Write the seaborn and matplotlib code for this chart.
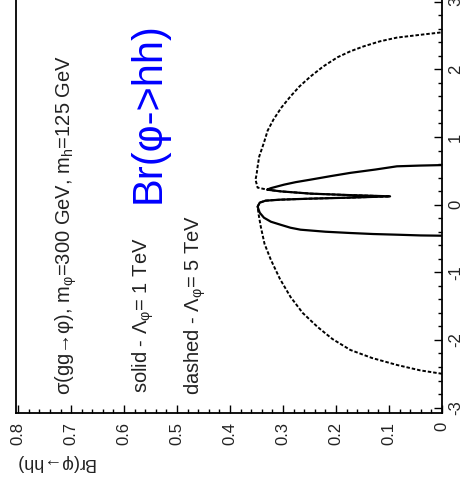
import matplotlib
matplotlib.use("Agg")
import matplotlib.pyplot as plt
import seaborn as sns
import pandas as pd
from matplotlib.ticker import MultipleLocator

# Br(phi -> hh) as a function of the mixing parameter x
# solid: Lambda_phi = 1 TeV
solid_x = [-0.459, -0.455, -0.444, -0.434, -0.419, -0.40, -0.37, -0.341,
           -0.296, -0.252, -0.193, -0.119, -0.03, 0.03, 0.059, 0.074, 0.089,
           0.104, 0.123, 0.141, 0.163, 0.197, 0.222, 0.244, 0.267, 0.296,
           0.333, 0.37, 0.422, 0.47, 0.519, 0.567, 0.578, 0.585]
solid_br = [0.0, 0.04, 0.085, 0.13, 0.173, 0.22, 0.267, 0.286,
            0.305, 0.323, 0.336, 0.344, 0.348, 0.344, 0.333, 0.305, 0.248,
            0.173, 0.098, 0.173, 0.248, 0.305, 0.33, 0.323, 0.312, 0.298,
            0.276, 0.248, 0.21, 0.173, 0.126, 0.085, 0.041, 0.0]

# dashed: Lambda_phi = 5 TeV
dashed_x = [-2.50, -2.45, -2.37, -2.267, -2.148, -1.985, -1.807, -1.60,
            -1.363, -1.096, -0.815, -0.578, -0.326, -0.148, -0.03, 0.03,
            0.059, 0.074, 0.089, 0.104, 0.123, 0.141, 0.163, 0.197, 0.222,
            0.252, 0.37, 0.444, 0.563, 0.711, 0.918, 1.096, 1.259, 1.437,
            1.60, 1.748, 1.896, 2.044, 2.18, 2.267, 2.34, 2.415, 2.47, 2.511,
            2.548]
dashed_br = [0.0, 0.041, 0.085, 0.132, 0.173, 0.207, 0.235, 0.263,
             0.286, 0.306, 0.323, 0.335, 0.342, 0.346, 0.348, 0.344,
             0.333, 0.305, 0.248, 0.173, 0.098, 0.173, 0.248, 0.305, 0.33,
             0.348, 0.352, 0.350, 0.348, 0.345, 0.336, 0.329, 0.318, 0.303,
             0.286, 0.269, 0.248, 0.224, 0.197, 0.173, 0.148, 0.117, 0.085,
             0.041, 0.0]

br_ticks = [0.0, 0.1, 0.2, 0.3, 0.4, 0.5, 0.6, 0.7, 0.8]
br_labels = ["0", "0.1", "0.2", "0.3", "0.4", "0.5", "0.6", "0.7", "0.8"]
x_ticks = [-3, -2, -1, 0, 1, 2, 3]
x_labels = ["-3", "-2", "-1", "0", "1", "2", "3"]

sns.set_style("ticks")
plt.rcParams["font.family"] = ["Liberation Sans", "DejaVu Sans"]
plt.rcParams["mathtext.fontset"] = "custom"
plt.rcParams["mathtext.rm"] = "Liberation Sans"
plt.rcParams["mathtext.it"] = "Liberation Sans:italic"
plt.rcParams["mathtext.bf"] = "Liberation Sans:bold"

W, H = 463, 491
fig = plt.figure(figsize=(W / 100, H / 100), dpi=100)
fig.patch.set_facecolor("white")
ax = fig.add_axes([16 / W, 78 / H, 426 / W, 416 / H])
ax.set_facecolor("white")

df_dashed = pd.DataFrame({"x": dashed_x, "br": dashed_br})
df_solid = pd.DataFrame({"x": solid_x, "br": solid_br})

sns.lineplot(data=df_dashed, x="br", y="x", sort=False, estimator=None, ax=ax,
             color="black", lw=1.4, linestyle=(0, (1.8, 1.0)),
             dash_capstyle="butt")
sns.lineplot(data=df_solid, x="br", y="x", sort=False, estimator=None, ax=ax,
             color="black", lw=1.6)

ax.set_xlim(0.804, 0.0)
ax.set_ylim(-3.08, 3.07)
ax.set_xlabel("")
ax.set_ylabel("")

ax.yaxis.tick_right()
ax.set_xticks(br_ticks)
ax.set_xticklabels(br_labels, rotation=90)
ax.set_yticks(x_ticks)
ax.set_yticklabels(x_labels, rotation=90, va="center")
ax.xaxis.set_minor_locator(MultipleLocator(0.02))
ax.yaxis.set_minor_locator(MultipleLocator(0.2))
ax.tick_params(which="both", direction="in", width=1.0, color="black",
               labelcolor="#222222", labelsize=12)
ax.tick_params(which="major", length=5.8)
ax.tick_params(which="minor", length=2.9)
ax.tick_params(axis="x", which="both", pad=6.5)
ax.tick_params(axis="y", which="both", pad=4.3)
for s in ax.spines.values():
    s.set_visible(True)
    s.set_linewidth(1.3)
    s.set_color("black")

txt = "#222222"
fig.text(66 / W, 1 - 395 / H,
         r"σ(gg→φ), m$_{\mathrm{φ}}$=300 GeV, m$_{\mathrm{h}}$=125 GeV",
         rotation=90, ha="center", va="bottom", fontsize=14.5, color=txt)
fig.text(143 / W, 1 - 393 / H, r"solid - Λ$_{\mathrm{φ}}$= 1 TeV",
         rotation=90, ha="center", va="bottom", fontsize=14.5, color=txt)
fig.text(195 / W, 1 - 395 / H, r"dashed - Λ$_{\mathrm{φ}}$= 5 TeV",
         rotation=90, ha="center", va="bottom", fontsize=14.5, color=txt)
fig.text(149 / W, 1 - 113 / H, "Br(φ->hh)", rotation=90, ha="center",
         va="center", fontsize=30, color="blue")
fig.text(15 / W, 1 - 462 / H, "Br(φ→hh)", rotation=180, ha="left",
         va="center", fontsize=13, color=txt)

fig.savefig("out.png", dpi=100)
